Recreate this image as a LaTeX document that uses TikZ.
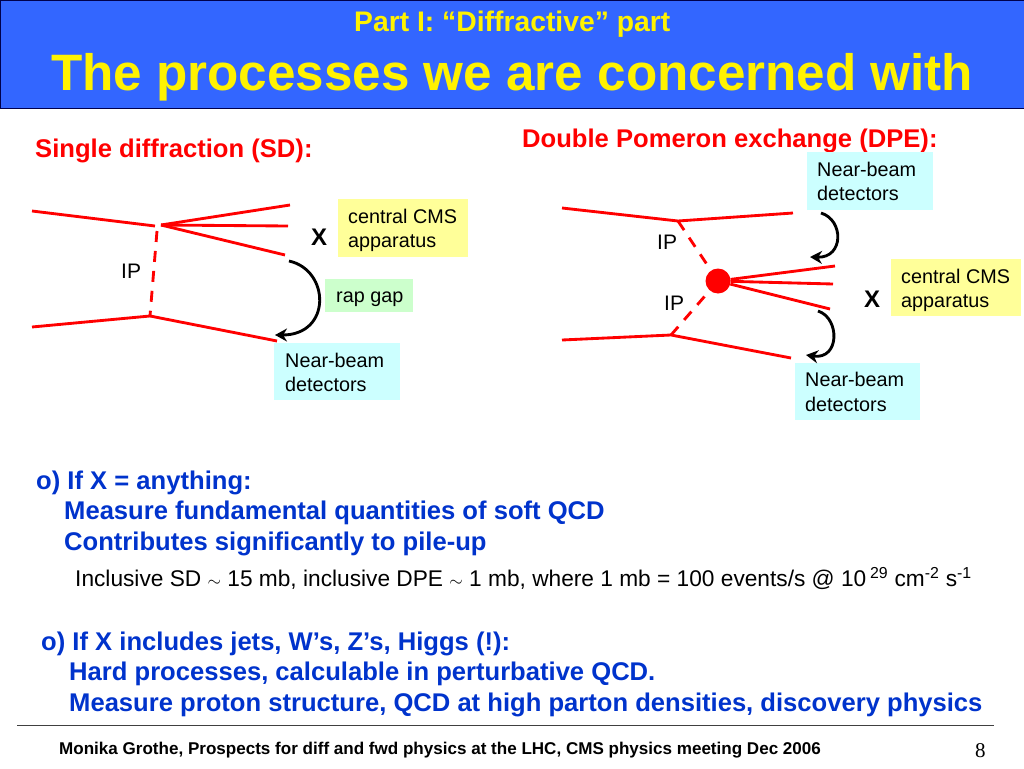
\documentclass[tikz,border=0pt]{standalone}
\usepackage{fontspec}
\setmainfont{Liberation Sans}
\newfontfamily\numfont{Liberation Serif}
\usetikzlibrary{arrows.meta}
\definecolor{barblue}{HTML}{3366FF}
\definecolor{bodyblue}{HTML}{0033CC}
\definecolor{boxyellow}{HTML}{FFFF99}
\definecolor{boxgreen}{HTML}{CCFFCC}
\definecolor{boxcyan}{HTML}{CCFFFF}
\newcommand{\fs}[1]{\fontsize{#1}{#1}\selectfont}
\tikzset{
  txt/.style={anchor=base west,inner sep=0pt},
  head/.style={txt,red,font=\fs{25.6}\bfseries},
  body/.style={txt,bodyblue,font=\fs{25.6}\bfseries},
  lab/.style={txt,font=\fs{21}},
  boxtxt/.style={txt,font=\fs{19.8}},
  bigx/.style={txt,font=\fs{24}\bfseries},
  track/.style={red,line width=1mm},
  pom/.style={red,line width=1mm,dash pattern=on 11pt off 9pt},
  gap/.style={black,line width=1mm,-{Stealth[length=12pt,width=13pt]}}
}
\begin{document}
\begin{tikzpicture}[x=1pt,y=-1pt]
  \useasboundingbox (0,0) rectangle (1024,768);
  % header
  \fill[barblue,draw=black!70!blue,line width=0.3mm] (0,0) rectangle (1024,108);
  \node[txt,yellow,font=\fs{28.3}\bfseries] (part) at (354,32) {Part I: “Diffractive” part};
  \node[txt,yellow,font=\fs{51.2}\bfseries] (title) at (51,90) {The processes we are concerned with};
  \node[head] (sdhead) at (35,157) {Single diffraction (SD):};
  \node[head] (dpehead) at (522,147) {Double Pomeron exchange (DPE):};
  % coloured boxes
  \fill[boxyellow] (338,199) rectangle (468,257);
  \fill[boxgreen] (325,279) rectangle (413,312);
  \fill[boxcyan] (274,343) rectangle (400,400);
  \fill[boxcyan] (807,152) rectangle (933,210);
  \fill[boxyellow] (891,259) rectangle (1021,316);
  \fill[boxcyan] (795,363) rectangle (920,420);
  \node[boxtxt] (cmsa) at (348,223) {central CMS};
  \node[boxtxt] (cmsb) at (348,247) {apparatus};
  \node[boxtxt] (rapgap) at (336,302) {rap gap};
  \node[boxtxt] (nbaa) at (285,367) {Near-beam};
  \node[boxtxt] (nbab) at (285,391) {detectors};
  \node[boxtxt] (nbba) at (817,176) {Near-beam};
  \node[boxtxt] (nbbb) at (817,200) {detectors};
  \node[boxtxt] (cmsc) at (901,283) {central CMS};
  \node[boxtxt] (cmsd) at (901,307) {apparatus};
  \node[boxtxt] (nbca) at (805,386) {Near-beam};
  \node[boxtxt] (nbcb) at (805,411) {detectors};
  % single diffraction
  \coordinate (sdinA) at (32,211);
  \coordinate (sdtop) at (155,226);
  \coordinate (sdfan) at (161,225);
  \coordinate (sdoutA) at (290,205);
  \coordinate (sdoutB) at (288,226);
  \coordinate (sdoutC) at (285,255);
  \coordinate (sdinB) at (32,327);
  \coordinate (sdbot) at (150,316);
  \coordinate (sdoutD) at (277,341);
  \draw[track] (sdinA) -- (sdtop);
  \draw[track] (sdfan) -- (sdoutA);
  \draw[track] (sdfan) -- (sdoutB);
  \draw[track] (sdfan) -- (sdoutC);
  \draw[track] (sdinB) -- (sdbot) -- (sdoutD);
  \draw[pom] (sdtop) ++(2,5) -- (sdbot);
  \coordinate (sdgapA) at (289,261);
  \coordinate (sdgapB) at (275,335);
  \draw[gap] (sdgapA) .. controls (330,270) and (332,335) .. (sdgapB);
  \node[lab] (sdip) at (121,278) {IP};
  \node[bigx] (sdx) at (311,245) {X};
  % double pomeron exchange
  \coordinate (dpinA) at (562,208);
  \coordinate (dptop) at (678,221);
  \coordinate (dpoutA) at (793,213);
  \coordinate (dpinB) at (562,340);
  \coordinate (dpbot) at (671,335);
  \coordinate (dpoutB) at (791,358);
  \node[circle,fill=red,minimum size=25pt,inner sep=0pt] (blob) at (718,281) {};
  \coordinate (dpfanA) at (835,266);
  \coordinate (dpfanB) at (833,284);
  \coordinate (dpfanC) at (830,309);
  \draw[track] (dpinA) -- (dptop) -- (dpoutA);
  \draw[track] (dpinB) -- (dpbot) -- (dpoutB);
  \draw[track] (blob) -- (dpfanA);
  \draw[track] (blob) -- (dpfanB);
  \draw[track] (blob) -- (dpfanC);
  \draw[pom] (dptop) -- (blob);
  \draw[pom] (dpbot) -- (blob);
  \coordinate (dpgapA) at (821,213);
  \coordinate (dpgapB) at (810,257);
  \coordinate (dpgapC) at (818,311);
  \coordinate (dpgapD) at (806,355);
  \draw[gap] (dpgapA) .. controls (844,220) and (844,258) .. (dpgapB);
  \draw[gap] (dpgapC) .. controls (840,318) and (840,360) .. (dpgapD);
  \node[lab] (dpipA) at (657,249) {IP};
  \node[lab] (dpipB) at (664,310) {IP};
  \node[bigx] (dpx) at (864,307) {X};
  % text lines
  \node[body] (ifa) at (36,489) {o) If X = anything:};
  \node[body] (ifb) at (64,519) {Measure fundamental quantities of soft QCD};
  \node[body] (ifc) at (64,550) {Contributes significantly to pile-up};
  \node[txt,font=\fs{22.7}] (incl) at (75,586) {Inclusive SD $\scriptstyle\sim$ 15 mb, inclusive DPE $\scriptstyle\sim$ 1 mb, where 1 mb = 100 events/s @ 10\,\textsuperscript{29} cm\textsuperscript{-2} s\textsuperscript{-1}};
  \node[body] (jeta) at (41,650) {o) If X includes jets, W’s, Z’s, Higgs (!):};
  \node[body] (jetb) at (69,680) {Hard processes, calculable in perturbative QCD.};
  \node[body] (jetc) at (69,711) {Measure proton structure, QCD at high parton densities, discovery physics};
  % footer
  \coordinate (ruleA) at (17,725);
  \coordinate (ruleB) at (994,725);
  \draw[black!75,line width=0.35mm] (ruleA) -- (ruleB);
  \node[txt,font=\fs{17.05}\bfseries] (foot) at (59,754) {Monika Grothe, Prospects for diff and fwd physics at the LHC, CMS physics meeting Dec 2006};
  \node[txt,font=\fs{21}\numfont] (pagenum) at (975,757) {8};
\end{tikzpicture}
\end{document}
